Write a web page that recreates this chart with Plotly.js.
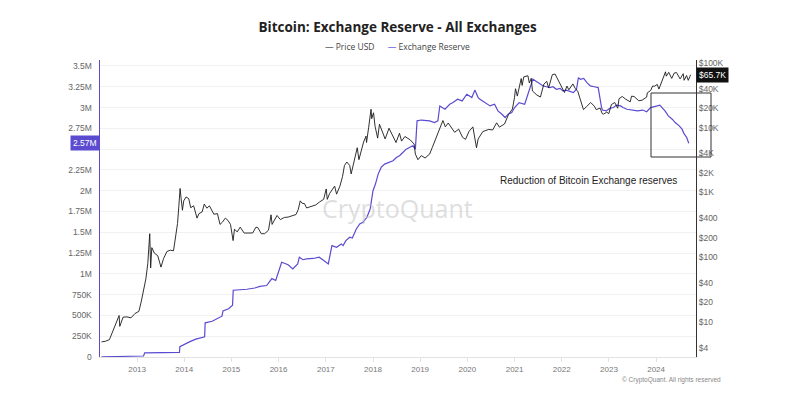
<!DOCTYPE html>
<html>
<head>
<meta charset="utf-8">
<script src="https://cdn.plot.ly/plotly-3.0.1.min.js"></script>
<style>html,body{margin:0;padding:0;background:#fff;}#chart{width:800px;height:396px;}</style>
</head>
<body>
<div id="chart"></div>
<script>
// ---- Data ----
const priceDates = [
"2012-04-01","2012-05-01","2012-06-01","2012-06-20","2012-07-15","2012-08-15","2012-08-20","2012-09-15","2012-10-15","2012-11-15","2012-12-15",
"2013-01-15","2013-02-01","2013-02-20","2013-03-10","2013-03-25","2013-04-09","2013-04-16","2013-04-25","2013-05-15","2013-06-10","2013-07-05","2013-07-25","2013-08-20","2013-09-15","2013-10-10","2013-10-25","2013-11-10","2013-11-20","2013-11-30","2013-12-08","2013-12-18","2013-12-28",
"2014-01-15","2014-02-05","2014-02-20","2014-03-15","2014-04-10","2014-04-25","2014-05-20","2014-06-05","2014-06-25","2014-07-15","2014-08-18","2014-09-15","2014-09-25","2014-10-05","2014-10-25","2014-11-15","2014-12-05","2014-12-25",
"2015-01-14","2015-01-25","2015-02-15","2015-03-10","2015-04-10","2015-05-15","2015-06-15","2015-07-10","2015-07-25","2015-08-20","2015-09-15","2015-10-15","2015-11-04","2015-11-12","2015-12-05","2015-12-20",
"2016-01-15","2016-02-15","2016-03-15","2016-04-15","2016-05-15","2016-06-01","2016-06-17","2016-07-01","2016-07-20","2016-08-05","2016-09-15","2016-10-15","2016-11-15","2016-12-15",
"2017-01-04","2017-01-12","2017-01-30","2017-02-25","2017-03-10","2017-03-25","2017-04-20","2017-05-10","2017-05-25","2017-06-12","2017-07-05","2017-07-16","2017-08-10","2017-09-01","2017-09-14","2017-10-01","2017-10-20","2017-11-08","2017-11-12","2017-11-28","2017-12-17","2017-12-22",
"2018-01-05","2018-01-17","2018-02-06","2018-02-20","2018-03-10","2018-04-05","2018-05-05","2018-06-01","2018-06-28","2018-07-25","2018-08-10","2018-09-05","2018-10-15","2018-11-15","2018-11-25","2018-12-15",
"2019-01-10","2019-02-08","2019-03-15","2019-04-05","2019-05-15","2019-06-26","2019-07-15","2019-08-06","2019-09-25","2019-10-26","2019-11-25","2019-12-18",
"2020-01-15","2020-02-13","2020-03-12","2020-03-25","2020-04-30","2020-05-10","2020-06-15","2020-07-15","2020-08-15","2020-09-05","2020-10-15","2020-11-15","2020-12-15","2020-12-31",
"2021-01-08","2021-01-22","2021-02-21","2021-02-28","2021-03-13","2021-04-14","2021-04-25","2021-05-10","2021-05-19","2021-06-22","2021-07-20","2021-08-15","2021-09-07","2021-09-21","2021-10-20","2021-11-10","2021-11-30","2021-12-15",
"2022-01-22","2022-02-10","2022-02-25","2022-03-28","2022-04-15","2022-05-05","2022-05-20","2022-06-18","2022-07-10","2022-08-13","2022-09-10","2022-09-25","2022-10-25","2022-11-10","2022-11-20","2022-12-15","2022-12-31",
"2023-01-20","2023-02-15","2023-03-10","2023-03-20","2023-04-14","2023-05-10","2023-06-15","2023-06-25","2023-07-15","2023-08-20","2023-09-15","2023-10-20","2023-10-25","2023-11-20","2023-12-05","2023-12-20",
"2024-01-10","2024-01-23","2024-02-15","2024-03-05","2024-03-14","2024-03-20","2024-04-08","2024-05-01","2024-05-21","2024-06-07","2024-06-24","2024-07-05","2024-07-29","2024-08-05","2024-08-24","2024-09-06","2024-09-18","2024-09-24"
];
const priceValues = [
4.9,5.0,5.3,6.5,8.5,12.5,8.5,11.8,11.9,11.5,13.4,
14.5,20,29,46,80,230,68,140,115,105,70,95,122,128,125,190,330,600,1150,800,530,740,
850,800,580,620,400,470,500,660,570,620,460,470,400,320,350,400,370,320,
180,270,245,290,235,237,236,290,285,230,230,260,450,320,390,440,
380,410,415,430,455,540,740,680,670,575,610,640,715,780,
1130,780,960,1170,1250,940,1250,1750,2600,2950,2600,1930,3400,4900,3200,4400,6000,7400,5900,10000,19300,13800,
17000,10500,6900,11300,9200,6700,9800,7500,5900,8200,6200,7300,6500,5600,3900,3200,
3700,3400,3900,4950,7900,12900,10300,11800,8500,9500,7100,6600,
8800,10300,4900,6700,8700,8800,9400,9200,11900,10200,11400,16000,19400,29000,
40000,30800,57500,45000,61000,63500,49000,58000,37000,32000,29800,47000,52000,41000,66000,67500,57000,48500,
35000,44000,38500,47500,40500,36500,29500,19000,21000,24500,21500,19000,20100,16500,16200,17400,16500,
22700,24500,20000,28000,30400,27600,25100,30700,30300,26100,26600,29700,34500,37500,44000,43700,
46600,39500,52000,66000,73000,62500,71600,57700,70100,71000,60300,56700,68200,54000,64100,53900,61500,65700
];

const reserveDates = [
"2012-04-01","2012-08-01","2012-12-01","2013-02-20","2013-03-01","2013-06-01","2013-09-01","2013-10-01","2013-10-15","2013-11-25","2013-11-28",
"2014-01-10","2014-02-14","2014-04-01","2014-06-08","2014-06-12","2014-08-05","2014-10-20","2014-10-28","2014-12-10","2015-01-10","2015-01-15",
"2015-03-01","2015-05-01","2015-07-01","2015-08-10","2015-10-01","2015-11-10","2015-12-10","2015-12-28","2016-01-25","2016-03-15","2016-04-20","2016-05-28","2016-06-10","2016-07-08","2016-08-05","2016-09-25","2016-11-10","2016-12-08","2017-01-20","2017-02-17",
"2017-03-25","2017-05-01","2017-05-15","2017-06-05","2017-07-05","2017-07-25","2017-08-25","2017-09-20","2017-10-15","2017-11-15","2017-12-10",
"2018-01-01","2018-01-20","2018-02-10","2018-03-05","2018-04-01","2018-05-01","2018-06-05","2018-07-01","2018-07-25","2018-08-20","2018-09-15","2018-10-10","2018-11-05","2018-11-25","2018-12-08",
"2019-01-10","2019-03-15","2019-04-22","2019-05-18","2019-06-02","2019-07-12","2019-08-18","2019-09-12","2019-10-18","2019-11-22","2019-12-28",
"2020-02-05","2020-02-28","2020-03-25","2020-04-08","2020-05-15","2020-06-25","2020-07-30","2020-08-25","2020-09-25","2020-10-20","2020-11-12","2020-12-10","2021-01-01",
"2021-02-05","2021-03-20","2021-04-15","2021-05-22","2021-07-01","2021-07-20","2021-08-10","2021-09-05","2021-10-01","2021-10-25","2021-11-20","2021-12-20",
"2022-01-10","2022-02-05","2022-03-05","2022-04-01","2022-04-25","2022-05-10","2022-05-25","2022-06-20","2022-07-15","2022-08-10","2022-09-10","2022-10-10","2022-11-05","2022-11-12","2022-12-10",
"2023-01-08","2023-02-05","2023-03-01","2023-04-01","2023-04-20","2023-05-20","2023-07-05","2023-08-10","2023-09-20","2023-10-20","2023-11-20","2023-12-20",
"2024-01-30","2024-03-10","2024-04-05","2024-05-05","2024-05-28","2024-06-28","2024-07-20","2024-08-03","2024-08-25","2024-09-10","2024-09-20"
];
const reserveValues = [
3000,5000,8000,12000,50000,52000,55000,60000,52000,55000,125000,
160000,185000,215000,243000,411000,430000,491000,555000,580000,623000,803000,
805000,815000,830000,850000,860000,943000,920000,1000000,1140000,1110000,1060000,1120000,1200000,1170000,1180000,1185000,1200000,1170000,1120000,1340000,
1320000,1360000,1340000,1400000,1440000,1430000,1540000,1600000,1620000,1680000,1780000,
2000000,2080000,2200000,2280000,2320000,2340000,2360000,2400000,2420000,2460000,2500000,2520000,2540000,2500000,2840000,
2850000,2840000,2820000,2840000,3020000,2980000,3040000,3060000,3100000,3080000,3160000,
3120000,3210000,3120000,3100000,3060000,3020000,3040000,2960000,2920000,2880000,2920000,2940000,
3000000,3060000,3040000,3160000,3340000,3300000,3280000,3260000,3250000,3240000,3250000,3220000,
3230000,3200000,3210000,3190000,3180000,3220000,3360000,3340000,3350000,3300000,3260000,3250000,3240000,3000000,2970000,
2960000,2990000,3000000,3030000,3020000,3000000,2980000,2970000,2960000,2970000,2950000,3000000,
3010000,3030000,2960000,2900000,2860000,2820000,2780000,2740000,2690000,2640000,2570000
];

const leftTickVals = [0,250000,500000,750000,1000000,1250000,1500000,1750000,2000000,2250000,2500000,2750000,3000000,3250000,3500000];
const leftTickText = ["0","250K","500K","750K","1M","1.25M","1.5M","1.75M","2M","2.25M","","2.75M","3M","3.25M","3.5M"];
const rightTickVals = [4,10,20,40,100,200,400,1000,2000,4000,10000,20000,40000,100000];
const rightTickText = ["$4","$10","$20","$40","$100","$200","$400","$1K","$2K","$4K","$10K","$20K","$40K","$100K"];

const PURPLE = "#5a4bd1";
const lastReserve = reserveValues[reserveValues.length-1];
const lastPrice = priceValues[priceValues.length-1];

const traces = [
  {x: priceDates, y: priceValues, yaxis: "y2", type: "scatter", mode: "lines", name: "Price USD",
   line: {color: "#1a1a1a", width: 0.9}, hoverinfo: "skip"},
  {x: reserveDates, y: reserveValues, yaxis: "y", type: "scatter", mode: "lines", name: "Exchange Reserve",
   line: {color: PURPLE, width: 1.2}, hoverinfo: "skip"}
];

const tickFont = {family: "Liberation Sans, Arial, sans-serif", size: 8.5, color: "#666"};

const layout = {
  width: 800, height: 396,
  margin: {l: 100, r: 104, t: 60, b: 39},
  paper_bgcolor: "#fff", plot_bgcolor: "#fff",
  showlegend: false,
  title: {text: "<b>Bitcoin: Exchange Reserve - All Exchanges</b>", x: 0.497, xanchor: "center", y: 0.93, yanchor: "middle",
          font: {family: "Open Sans, sans-serif", size: 13.5, color: "#222"}},
  xaxis: {type: "date", range: ["2012-03-20", "2024-11-05"], showgrid: false, zeroline: false,
          tickvals: ["2013-01-01","2014-01-01","2015-01-01","2016-01-01","2017-01-01","2018-01-01","2019-01-01","2020-01-01","2021-01-01","2022-01-01","2023-01-01","2024-01-01"],
          ticktext: ["2013","2014","2015","2016","2017","2018","2019","2020","2021","2022","2023","2024"],
          showline: true, linecolor: "#e2e2e2", linewidth: 1, ticks: "outside", ticklen: 4, tickcolor: "#e2e2e2",
          tickfont: {family: "Liberation Sans, Arial, sans-serif", size: 8, color: "#777"}},
  yaxis: {range: [0, 3572000], tickvals: leftTickVals, ticktext: leftTickText, showgrid: true, gridcolor: "#f1f1f1",
          zeroline: false, showline: true, linecolor: PURPLE, linewidth: 1.5, ticks: "", ticklabelstandoff: 5,
          tickfont: tickFont},
  yaxis2: {type: "log", overlaying: "y", side: "right", range: [0.456, 5.046], tickvals: rightTickVals, ticktext: rightTickText,
           showgrid: false, zeroline: false, showline: true, linecolor: "#333", linewidth: 1, ticks: "",
           tickfont: tickFont},
  shapes: [
    {type: "rect", xref: "paper", yref: "paper", x0: (651-100)/596, x1: (711-100)/596, y0: (357-157)/297, y1: (357-93)/297,
     line: {color: "#333", width: 1}, fillcolor: "rgba(0,0,0,0)"}
  ],
  annotations: [
    {xref: "paper", yref: "paper", x: 0.499, y: (357-46)/297, xanchor: "center", yanchor: "middle", showarrow: false,
     text: '<span style="color:#444">—</span> Price USD      <span style="color:' + PURPLE + '">—</span> Exchange Reserve',
     font: {family: "Open Sans, sans-serif", size: 8.5, color: "#444"}},
    {xref: "paper", yref: "paper", x: (397-100)/596, y: (357-208)/297, xanchor: "center", yanchor: "middle", showarrow: false,
     text: "CryptoQuant", font: {family: "Open Sans, sans-serif", size: 25, color: "rgba(190,190,190,0.5)"}},
    {xref: "paper", yref: "paper", x: (588-100)/596, y: (357-180)/297, xanchor: "center", yanchor: "middle", showarrow: false,
     text: "Reduction of Bitcoin Exchange reserves", font: {family: "Liberation Sans, Arial, sans-serif", size: 10, color: "#222"}},
    {xref: "paper", yref: "paper", x: (723-100)/596, y: (357-380)/297, xanchor: "right", yanchor: "middle", showarrow: false,
     text: "© CryptoQuant. All rights reserved", font: {family: "Liberation Sans, Arial, sans-serif", size: 6.5, color: "#888"}},
    {xref: "paper", yref: "y", x: 0, y: lastReserve, xanchor: "right", yanchor: "middle", showarrow: false,
     text: (lastReserve/1e6).toFixed(2) + "M", bgcolor: PURPLE, borderpad: 2,
     font: {family: "Liberation Sans, Arial, sans-serif", size: 8.5, color: "#fff"}},
    {xref: "paper", yref: "y2", x: 1, y: Math.log10(lastPrice), xanchor: "left", yanchor: "middle", showarrow: false,
     text: "$" + (lastPrice/1000).toFixed(1) + "K", bgcolor: "#111", borderpad: 2,
     font: {family: "Liberation Sans, Arial, sans-serif", size: 8.5, color: "#fff"}}
  ]
};

Plotly.newPlot("chart", traces, layout, {staticPlot: true, displayModeBar: false});
</script>
</body>
</html>
